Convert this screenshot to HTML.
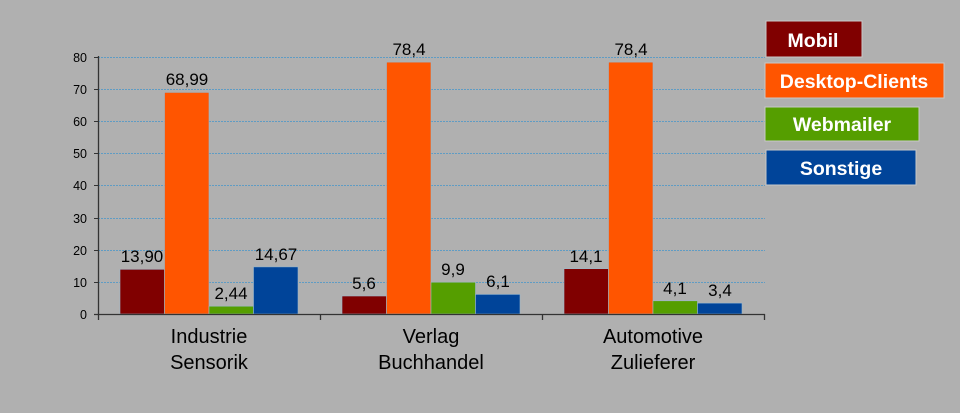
<!DOCTYPE html>
<html><head><meta charset="utf-8"><style>
html,body{margin:0;padding:0;background:#b0b0b0;}
svg{display:block;font-family:"Liberation Sans",Arial,sans-serif;}
</style></head><body>
<svg width="960" height="413" viewBox="0 0 960 413">
<rect width="960" height="413" fill="#b0b0b0"/>
<g stroke="#5f9cc4" stroke-width="1" stroke-dasharray="2,1">
<line x1="98" x2="765" y1="57.5" y2="57.5"/>
<line x1="98" x2="765" y1="89.5" y2="89.5"/>
<line x1="98" x2="765" y1="121.5" y2="121.5"/>
<line x1="98" x2="765" y1="153.5" y2="153.5"/>
<line x1="98" x2="765" y1="185.5" y2="185.5"/>
<line x1="98" x2="765" y1="218.5" y2="218.5"/>
<line x1="98" x2="765" y1="250.5" y2="250.5"/>
<line x1="98" x2="765" y1="282.5" y2="282.5"/>
</g>
<g stroke="#9ab8cc" stroke-width="0.6">
<rect x="120" y="269.3" width="44.5" height="44.7" fill="#800000"/>
<rect x="164.5" y="92.4" width="44.5" height="221.6" fill="#ff5500"/>
<rect x="209" y="306.2" width="44.5" height="7.8" fill="#559e00"/>
<rect x="253.5" y="266.9" width="44.5" height="47.1" fill="#004499"/>
<rect x="342" y="296" width="44.5" height="18" fill="#800000"/>
<rect x="386.5" y="62.1" width="44.5" height="251.9" fill="#ff5500"/>
<rect x="431" y="282.2" width="44.5" height="31.8" fill="#559e00"/>
<rect x="475.5" y="294.4" width="44.5" height="19.6" fill="#004499"/>
<rect x="564" y="268.7" width="44.5" height="45.3" fill="#800000"/>
<rect x="608.5" y="62.1" width="44.5" height="251.9" fill="#ff5500"/>
<rect x="653" y="300.8" width="44.5" height="13.2" fill="#559e00"/>
<rect x="697.5" y="303.1" width="44.5" height="10.9" fill="#004499"/>
</g>
<g stroke="#333" stroke-width="1.3">
<line x1="98.5" y1="56" x2="98.5" y2="320"/>
<line x1="94" y1="314.5" x2="765" y2="314.5"/>
<line x1="320.5" y1="314" x2="320.5" y2="320"/>
<line x1="542.5" y1="314" x2="542.5" y2="320"/>
<line x1="764.5" y1="314" x2="764.5" y2="320"/>
<g stroke-width="1">
<line x1="94" x2="98" y1="57.5" y2="57.5"/><line x1="94" x2="98" y1="89.5" y2="89.5"/>
<line x1="94" x2="98" y1="121.5" y2="121.5"/><line x1="94" x2="98" y1="153.5" y2="153.5"/>
<line x1="94" x2="98" y1="185.5" y2="185.5"/><line x1="94" x2="98" y1="218.5" y2="218.5"/>
<line x1="94" x2="98" y1="250.5" y2="250.5"/><line x1="94" x2="98" y1="282.5" y2="282.5"/>
</g>
</g>
<g font-size="12.5" fill="#000" text-anchor="end">
<text x="87" y="62">80</text><text x="87" y="94">70</text><text x="87" y="126">60</text>
<text x="87" y="158">50</text><text x="87" y="190">40</text><text x="87" y="223">30</text>
<text x="87" y="255">20</text><text x="87" y="287">10</text><text x="87" y="319">0</text>
</g>
<g font-size="17" fill="#000" text-anchor="middle">
<text x="142" y="262">13,90</text><text x="187" y="85">68,99</text><text x="231" y="299">2,44</text><text x="276" y="260">14,67</text>
<text x="364" y="289">5,6</text><text x="409" y="55">78,4</text><text x="453" y="275">9,9</text><text x="498" y="287">6,1</text>
<text x="586" y="262">14,1</text><text x="631" y="55">78,4</text><text x="675" y="294">4,1</text><text x="720" y="296">3,4</text>
</g>
<g font-size="20" fill="#000" text-anchor="middle">
<text x="209" y="343">Industrie</text><text x="209" y="369">Sensorik</text>
<text x="431" y="343">Verlag</text><text x="431" y="369">Buchhandel</text>
<text x="653" y="343">Automotive</text><text x="653" y="369">Zulieferer</text>
</g>
<g stroke="#c8c8c8" stroke-width="1">
<rect x="766" y="21" width="96" height="36" fill="#800000"/>
<rect x="765" y="63" width="179" height="35" fill="#ff5500"/>
<rect x="765" y="107" width="154" height="34" fill="#559e00"/>
<rect x="766" y="150" width="150" height="35" fill="#004499"/>
</g>
<g font-size="19.5" font-weight="bold" fill="#fff" text-anchor="middle">
<text x="813" y="47">Mobil</text>
<text x="854" y="88">Desktop-Clients</text>
<text x="842" y="131">Webmailer</text>
<text x="841" y="175">Sonstige</text>
</g>
</svg>
</body></html>
